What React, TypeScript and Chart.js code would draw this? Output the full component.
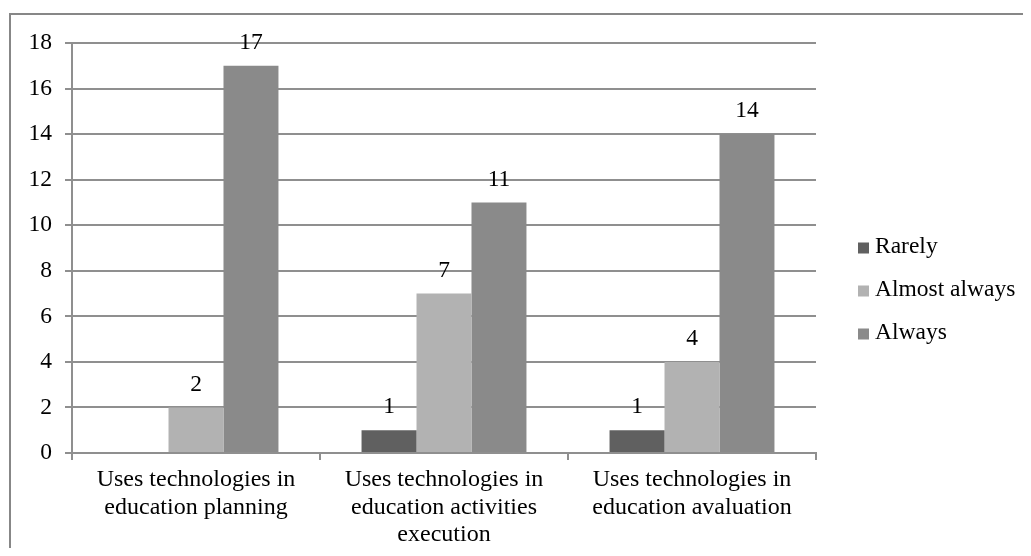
import React, { useEffect, useRef } from "react";
import { Chart, registerables } from "chart.js";

Chart.register(...registerables);

// Categories (multi-line axis labels)
const categories: string[][] = [
  ["Uses technologies in", "education planning"],
  ["Uses technologies in", "education activities", "execution"],
  ["Uses technologies in", "education avaluation"],
];

// Series
const seriesNames = ["Rarely", "Almost always", "Always"];
const rarely = [0, 1, 1];
const almostAlways = [2, 7, 4];
const always = [17, 11, 14];
const seriesColors = ["#606060", "#b2b2b2", "#8a8a8a"];

// Value axis
const yMin = 0;
const yMax = 18;
const yStep = 2;

const FONT = "'Liberation Serif', 'Times New Roman', serif";
const FONT_SIZE = 23.5;
const AXIS_FONT_SIZE = 24;
const GRID = "#8f8f8f";

// Value labels above each bar
const barValueLabels = {
  id: "barValueLabels",
  afterDatasetsDraw(chart: Chart) {
    const ctx = chart.ctx;
    ctx.save();
    ctx.font = `${FONT_SIZE}px ${FONT}`;
    ctx.fillStyle = "#000";
    ctx.textAlign = "center";
    ctx.textBaseline = "middle";
    chart.data.datasets.forEach((ds, di) => {
      const meta = chart.getDatasetMeta(di);
      meta.data.forEach((el: any, i: number) => {
        const v = ds.data[i] as number;
        if (!v) return;
        ctx.fillText(String(v), el.x, el.y - 23);
      });
    });
    ctx.restore();
  },
};

// Legend column to the right of the plot
const sideLegend = {
  id: "sideLegend",
  afterDraw(chart: Chart) {
    const ctx = chart.ctx;
    const boxSize = 11;
    const spacing = 43;
    const n = chart.data.datasets.length;
    const centerY = 282;
    const startY = centerY - ((n - 1) * spacing) / 2;
    const boxX = chart.chartArea.right + 42;
    ctx.save();
    ctx.font = `${FONT_SIZE}px ${FONT}`;
    ctx.textAlign = "left";
    ctx.textBaseline = "middle";
    chart.data.datasets.forEach((ds, i) => {
      const y = startY + i * spacing;
      ctx.fillStyle = ds.backgroundColor as string;
      ctx.fillRect(boxX, y - boxSize / 2 + 1, boxSize, boxSize);
      ctx.fillStyle = "#000";
      ctx.fillText(ds.label as string, boxX + boxSize + 6, y);
    });
    ctx.restore();
  },
};

export default function App() {
  const canvasRef = useRef<HTMLCanvasElement | null>(null);

  useEffect(() => {
    if (!canvasRef.current) return;
    const values = [rarely, almostAlways, always];
    const chart = new Chart(canvasRef.current, {
      type: "bar",
      data: {
        labels: categories,
        datasets: seriesNames.map((name, i) => ({
          label: name,
          data: values[i],
          backgroundColor: seriesColors[i],
          borderWidth: 0,
          categoryPercentage: 0.665,
          barPercentage: 1.0,
        })),
      },
      options: {
        animation: false,
        responsive: false,
        layout: { padding: { left: 0, top: 35, right: 207, bottom: 0 } },
        plugins: {
          legend: { display: false },
          tooltip: { enabled: false },
        },
        scales: {
          x: {
            afterFit: (scale: any) => {
              scale.height = 95;
            },
            grid: {
              drawOnChartArea: false,
              drawTicks: true,
              tickLength: 7,
              color: GRID,
              lineWidth: 2,
              offset: true,
            },
            border: { color: GRID, width: 2 },
            ticks: {
              color: "#000",
              padding: 6,
              maxRotation: 0,
              autoSkip: false,
              font: { family: FONT, size: AXIS_FONT_SIZE, lineHeight: 1.146 },
            },
          },
          y: {
            min: yMin,
            max: yMax,
            afterFit: (scale: any) => {
              scale.width = 64;
            },
            grid: {
              color: GRID,
              lineWidth: 2,
              drawTicks: true,
              tickLength: 7,
            },
            border: { color: GRID, width: 2 },
            ticks: {
              stepSize: yStep,
              color: "#000",
              padding: 13,
              font: { family: FONT, size: FONT_SIZE },
            },
          },
        },
      },
      plugins: [barValueLabels, sideLegend],
    });
    return () => chart.destroy();
  }, []);

  return (
    <div
      style={{
        position: "relative",
        width: 1015,
        height: 540,
        overflow: "hidden",
        background: "#fff",
      }}
    >
      <div
        style={{
          position: "absolute",
          left: 1,
          top: 5,
          width: 3000,
          height: 3000,
          borderTop: "2px solid #878787",
          borderLeft: "2px solid #878787",
        }}
      />
      <canvas
        ref={canvasRef}
        width={1015}
        height={540}
        style={{ position: "absolute", left: 0, top: 0 }}
      />
    </div>
  );
}
